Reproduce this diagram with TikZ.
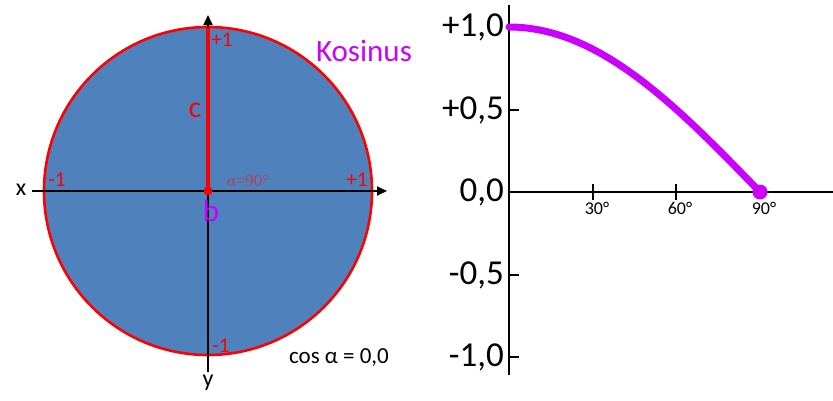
\documentclass[tikz,border=0pt]{standalone}
\usepackage{fontspec}
\setmainfont{Carlito}
\newfontfamily\serifalpha{Liberation Serif}
\usetikzlibrary{arrows.meta}
\definecolor{discblue}{HTML}{4F81BD}
\definecolor{kred}{HTML}{FF0000}
\definecolor{kmag}{HTML}{CC00FF}
\definecolor{alphared}{RGB}{170,70,90}
\tikzset{
  axis/.style={line width=2pt,black},
  axisarrow/.style={axis,-{Triangle[length=10pt,width=9pt]}},
  redlbl/.style={text=kred,font=\fontsize{21}{21}\selectfont,inner sep=0pt},
  ticklbl/.style={font=\fontsize{35}{35}\selectfont,inner sep=0pt,anchor=east},
  degl/.style={font=\fontsize{18}{18}\selectfont,inner sep=0pt,anchor=north},
}
\begin{document}
\begin{tikzpicture}[x=1pt,y=-1pt]
\useasboundingbox (0,0) rectangle (833,400);
% ---- unit circle ----
\coordinate (O) at (208,191);
\fill[discblue] (O) circle (164);
\draw[kred,line width=2.6pt] (O) circle (164);
\coordinate (xl) at (32,191);
\coordinate (xr) at (387,191);
\coordinate (yt) at (208,15);
\coordinate (yb) at (208,372);
\draw[axisarrow] (xl) -- (xr);
\draw[axisarrow] (yb) -- (yt);
\coordinate (top) at (208,28);
\draw[kred,line width=3.5pt] (O) -- (top);
\fill[kred] (O) circle (4.5);
\node[font=\fontsize{24}{24}\selectfont,inner sep=0pt] (xlab) at (21,190) {x};
\node[font=\fontsize{24}{24}\selectfont,inner sep=0pt] (ylab) at (208,383) {y};
\node[redlbl] (p1t) at (222,40) {+1};
\node[redlbl] (m1l) at (57,180) {-1};
\node[redlbl] (p1r) at (357,180) {+1};
\node[redlbl] (m1b) at (221,346) {-1};
\node[text=kred,font=\fontsize{30}{30}\selectfont,inner sep=0pt] (clab) at (195,110) {c};
\node[text=alphared,font=\serifalpha\fontsize{17}{17}\selectfont,inner sep=0pt] (alab) at (248,181) {α=90°};
\node[text=kmag,font=\fontsize{31}{31}\selectfont,inner sep=0pt] (blab) at (211,211) {b};
\node[font=\fontsize{23}{23}\selectfont,inner sep=0pt] (cosl) at (339,358) {cos α = 0,0};
\node[text=kmag,font=\fontsize{31}{31}\selectfont,inner sep=0pt] (kos) at (364,51) {Kosinus};
% ---- graph ----
\coordinate (gO) at (509,192);
\coordinate (gyt) at (509,5);
\coordinate (gyb) at (509,375);
\coordinate (gxr) at (833,192);
\draw[axis] (gyt) -- (gyb);
\draw[axis] (gO) -- (gxr);
\foreach \v/\l in {27/{+1,0},110/{+0,5},192/{0,0},275/{-0,5},357/{-1,0}}{
  \draw[axis] (509,\v) -- (519,\v);
  \node[ticklbl] at (504,\v) {\l};
}
\foreach \xx/\l in {593/30,676/60}{
  \draw[axis] (\xx,184) -- (\xx,200);
  \node[degl] at (\xx+4,202) {\l°};
}
\node[degl] at (764,202) {90°};
\draw[kmag,line width=7pt,line cap=round,domain=0:90,samples=60,smooth]
  plot ({509+\x/90*251},{192-165*cos(\x)});
\fill[kmag] (760,192) circle (7.5);
\end{tikzpicture}
\end{document}
